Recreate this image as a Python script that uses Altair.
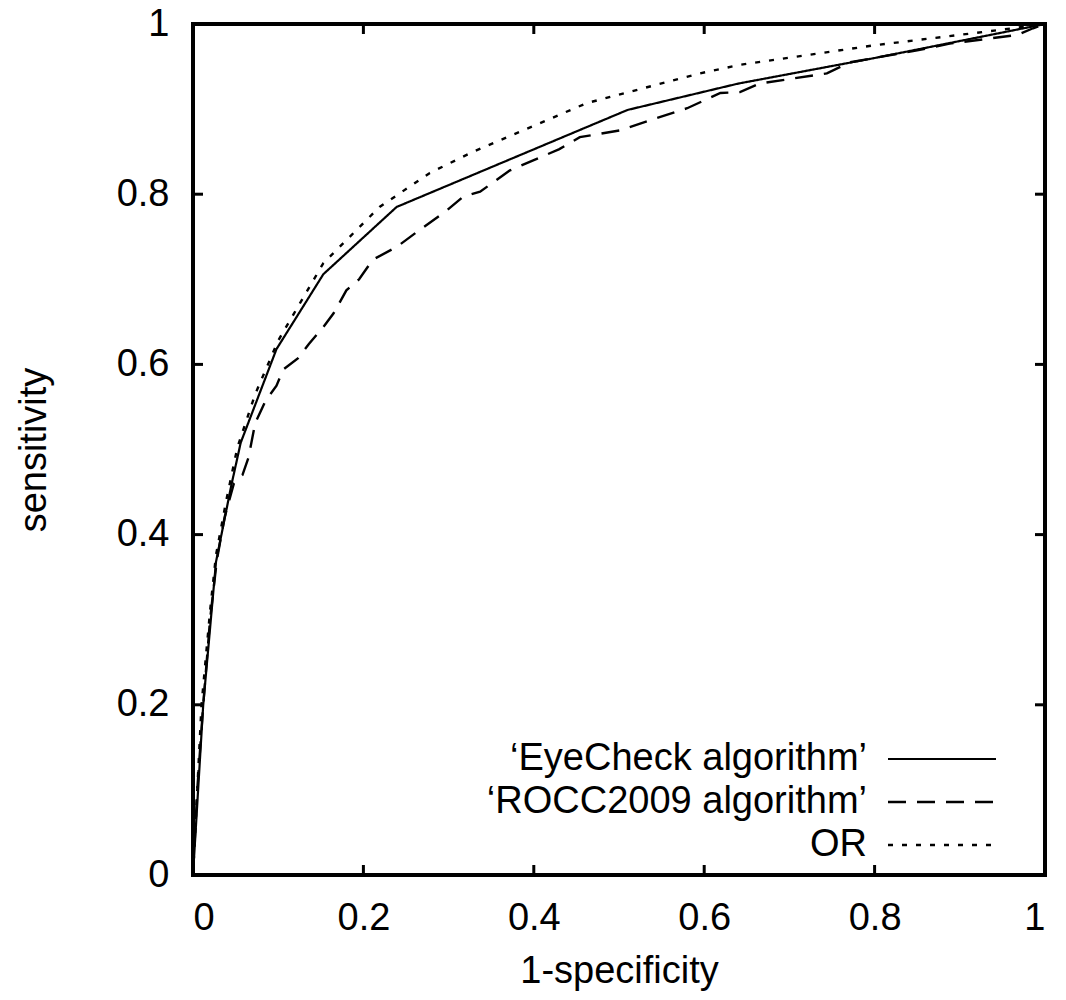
import altair as alt
import pandas as pd

# ---- data ----
eye_x = [0.0, 0.012, 0.027, 0.045, 0.056, 0.098, 0.153, 0.239, 0.51, 0.64, 0.8, 1.0]
eye_y = [0.0, 0.2, 0.368, 0.458, 0.508, 0.618, 0.706, 0.785, 0.899, 0.93, 0.96, 1.0]

rocc_x = [0.0, 0.005, 0.012, 0.02, 0.028, 0.037, 0.048, 0.058, 0.065, 0.073, 0.085, 0.098,
          0.106, 0.123, 0.136, 0.153, 0.165, 0.18, 0.195, 0.211, 0.239, 0.266, 0.298, 0.317,
          0.337, 0.372, 0.40, 0.43, 0.454, 0.501, 0.54, 0.58, 0.619, 0.642, 0.665, 0.744,
          0.771, 0.85, 0.888, 0.967, 0.986, 1.0]
rocc_y = [0.0, 0.1, 0.2, 0.3, 0.37, 0.42, 0.46, 0.47, 0.49, 0.531, 0.557, 0.575,
          0.594, 0.607, 0.624, 0.644, 0.66, 0.687, 0.70, 0.723, 0.738, 0.758, 0.781, 0.797,
          0.803, 0.828, 0.84, 0.853, 0.867, 0.875, 0.888, 0.901, 0.919, 0.92, 0.93, 0.942,
          0.955, 0.969, 0.977, 0.987, 0.995, 1.0]

or_x = [0.0, 0.01, 0.02, 0.027, 0.039, 0.052, 0.073, 0.1, 0.153, 0.219, 0.278, 0.329,
        0.462, 0.595, 0.642, 0.8, 0.947, 1.0]
or_y = [0.0, 0.2, 0.31, 0.376, 0.44, 0.502, 0.565, 0.628, 0.719, 0.785, 0.825, 0.85,
        0.907, 0.942, 0.952, 0.975, 0.993, 1.0]

series_names = ["‘EyeCheck algorithm’", "‘ROCC2009 algorithm’", "OR"]
tick_values = [0, 0.2, 0.4, 0.6, 0.8, 1]
inner_ticks = [0.2, 0.4, 0.6, 0.8]

# ---- layout constants ----
W, H = 852, 851
FONT = "Liberation Sans"
FS = 38
TICK_LEN = 10

xs = alt.Scale(domain=[0, 1], nice=False, zero=False)
ys = alt.Scale(domain=[0, 1], nice=False, zero=False)

x_axis = alt.Axis(values=tick_values, format="~g", domain=False, ticks=False, grid=False,
                  labelFont=FONT, labelFontSize=FS, labelPadding=24, labelColor="black",
                  titleFont=FONT, titleFontSize=FS, titleFontWeight="normal", titleColor="black",
                  titleBaseline="middle", titleY=96, titleX=W / 2)
y_axis = alt.Axis(values=tick_values, format="~g", domain=False, ticks=False, grid=False,
                  labelFont=FONT, labelFontSize=FS, labelPadding=24, labelColor="black",
                  titleFont=FONT, titleFontSize=FS, titleFontWeight="normal", titleColor="black",
                  titleBaseline="middle", titleX=-159, titleY=H / 2)


def X(field):
    return alt.X(field, scale=xs, axis=x_axis, title="1-specificity")


def Y(field):
    return alt.Y(field, scale=ys, axis=y_axis, title="sensitivity")


def curve(xv, yv, dash, width):
    df = pd.DataFrame({"x": xv, "y": yv, "i": range(len(xv))})
    mk = alt.Chart(df).mark_line(color="black", strokeWidth=width, strokeDash=dash)
    return mk.encode(x=X("x:Q"), y=Y("y:Q"), order="i:Q")


tdf = pd.DataFrame({"v": inner_ticks})
tick_style = dict(color="black", strokeWidth=3)
t_bottom = alt.Chart(tdf).mark_rule(**tick_style).encode(
    x=X("v:Q"), y=alt.value(H), y2=alt.value(H - TICK_LEN))
t_top = alt.Chart(tdf).mark_rule(**tick_style).encode(
    x=X("v:Q"), y=alt.value(0), y2=alt.value(TICK_LEN))
t_left = alt.Chart(tdf).mark_rule(**tick_style).encode(
    y=Y("v:Q"), x=alt.value(0), x2=alt.value(TICK_LEN))
t_right = alt.Chart(tdf).mark_rule(**tick_style).encode(
    y=Y("v:Q"), x=alt.value(W), x2=alt.value(W - TICK_LEN))

DASHES = [[1, 0], [18, 11], [5, 9]]
WIDTHS = [2.2, 2.4, 2.4]
curves = [
    curve(eye_x, eye_y, DASHES[0], WIDTHS[0]),
    curve(rocc_x, rocc_y, DASHES[1], WIDTHS[1]),
    curve(or_x, or_y, DASHES[2], WIDTHS[2]),
]

# legend (manual, gnuplot style: label right-aligned, sample to the right)
LEG_TEXT_X = 674
LEG_LINE_X1, LEG_LINE_X2 = 695, 803
LEG_ROWS_Y = [735, 778, 821]
legend_layers = []
for name, dash, wdt, ry in zip(series_names, DASHES, WIDTHS, LEG_ROWS_Y):
    ldf = pd.DataFrame({"label": [name]})
    legend_layers.append(
        alt.Chart(ldf).mark_text(align="right", baseline="middle", font=FONT, fontSize=FS,
                                 color="black").encode(text="label:N", x=alt.value(LEG_TEXT_X),
                                                       y=alt.value(ry)))
    legend_layers.append(
        alt.Chart(ldf).mark_rule(color="black", strokeWidth=wdt, strokeDash=dash).encode(
            x=alt.value(LEG_LINE_X1), x2=alt.value(LEG_LINE_X2), y=alt.value(ry)))

chart = alt.layer(*curves, t_bottom, t_top, t_left, t_right, *legend_layers).properties(
    width=W, height=H,
    autosize=alt.AutoSizeParams(type="none"),
    padding={"left": 185, "top": 16, "right": 13, "bottom": 120},
    background="white",
).configure_view(stroke="black", strokeWidth=4)

chart.save("out.html", embed_options={"renderer": "svg", "actions": False})
